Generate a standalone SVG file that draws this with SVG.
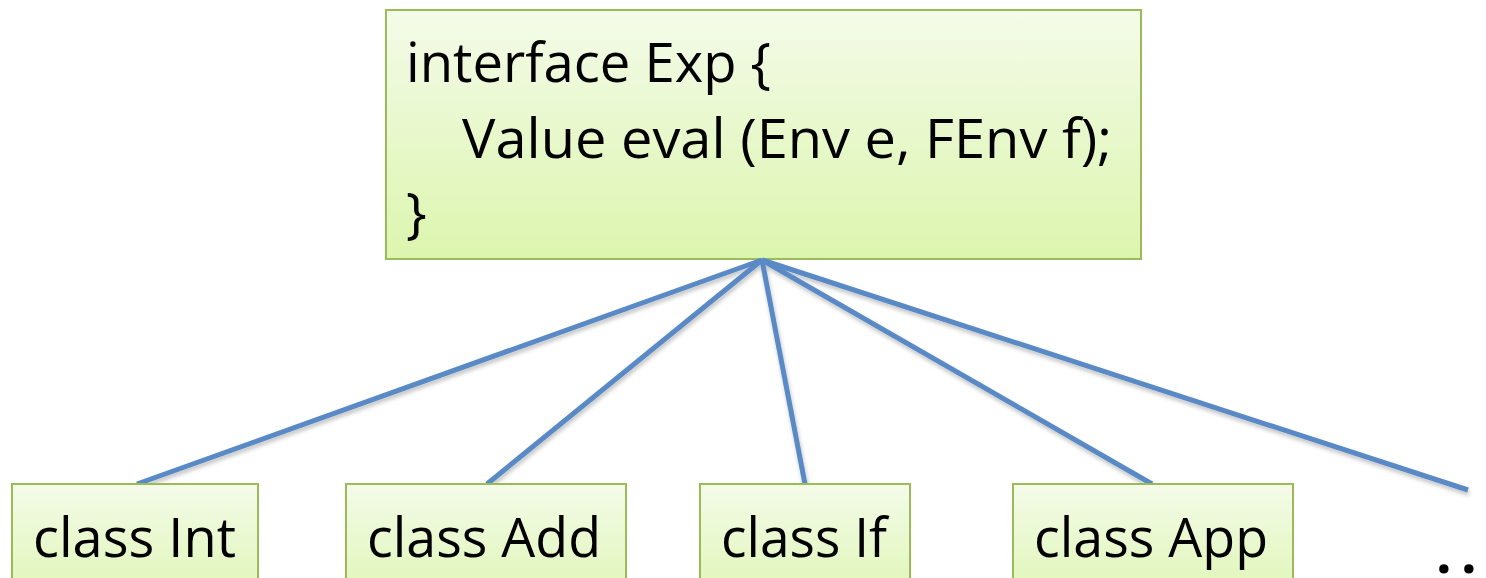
<svg xmlns="http://www.w3.org/2000/svg" width="1486" height="578" viewBox="0 0 1486 578">
  <defs>
    <linearGradient id="g" x1="0" y1="0" x2="0" y2="1">
      <stop offset="0" stop-color="#f4fbe9"/>
      <stop offset="1" stop-color="#dcf5ae"/>
    </linearGradient>
    <linearGradient id="gs" x1="0" y1="0" x2="0" y2="1">
      <stop offset="0" stop-color="#f4fbe9"/>
      <stop offset="1" stop-color="#e0f6b8"/>
    </linearGradient>
    <filter id="sh" x="-10%" y="-10%" width="130%" height="140%">
      <feGaussianBlur in="SourceAlpha" stdDeviation="2"/>
      <feOffset dx="1" dy="3"/>
      <feComponentTransfer><feFuncA type="linear" slope="0.25"/></feComponentTransfer>
      <feMerge><feMergeNode/><feMergeNode in="SourceGraphic"/></feMerge>
    </filter>
  </defs>
  <style>
    .box { fill: url(#g); stroke: #9bbb59; stroke-width: 2; }
    .sbox { fill: url(#gs); stroke: #9bbb59; stroke-width: 2; }
    .t { font-family: "Open Sans", "Liberation Sans", sans-serif; font-size: 55px; fill: #000; }
    .c { stroke: #5a8ac6; stroke-width: 5; fill: none; stroke-linecap: butt; }
  </style>
  <g id="exp">
    <rect class="box" x="386" y="10" width="755" height="249"/>
    <text class="t" x="406" y="82" textLength="365" lengthAdjust="spacingAndGlyphs">interface Exp {</text>
    <text class="t" x="462" y="158" textLength="650" lengthAdjust="spacingAndGlyphs">Value eval (Env e, FEnv f);</text>
    <text class="t" x="406" y="232">}</text>
  </g>
  <g id="connectors" filter="url(#sh)">
    <line class="c" x1="762" y1="260" x2="137" y2="484"/>
    <line class="c" x1="762" y1="260" x2="487" y2="484"/>
    <line class="c" x1="762" y1="260" x2="805" y2="484"/>
    <line class="c" x1="762" y1="260" x2="1152" y2="484"/>
    <line class="c" x1="762" y1="260" x2="1468" y2="490"/>
  </g>
  <g id="int">
    <rect class="sbox" x="12" y="484" width="246" height="110"/>
    <text class="t" x="33" y="557" textLength="203" lengthAdjust="spacingAndGlyphs">class Int</text>
  </g>
  <g id="add">
    <rect class="sbox" x="346" y="484" width="280" height="110"/>
    <text class="t" x="367" y="557" textLength="234" lengthAdjust="spacingAndGlyphs">class Add</text>
  </g>
  <g id="if">
    <rect class="sbox" x="700" y="484" width="210" height="110"/>
    <text class="t" x="721" y="557" textLength="166" lengthAdjust="spacingAndGlyphs">class If</text>
  </g>
  <g id="app">
    <rect class="sbox" x="1013" y="484" width="280" height="110"/>
    <text class="t" x="1034" y="557" textLength="234" lengthAdjust="spacingAndGlyphs">class App</text>
  </g>
  <g id="more">
    <text class="t" x="1436 1461" y="573" font-weight="bold">..</text>
  </g>
</svg>
